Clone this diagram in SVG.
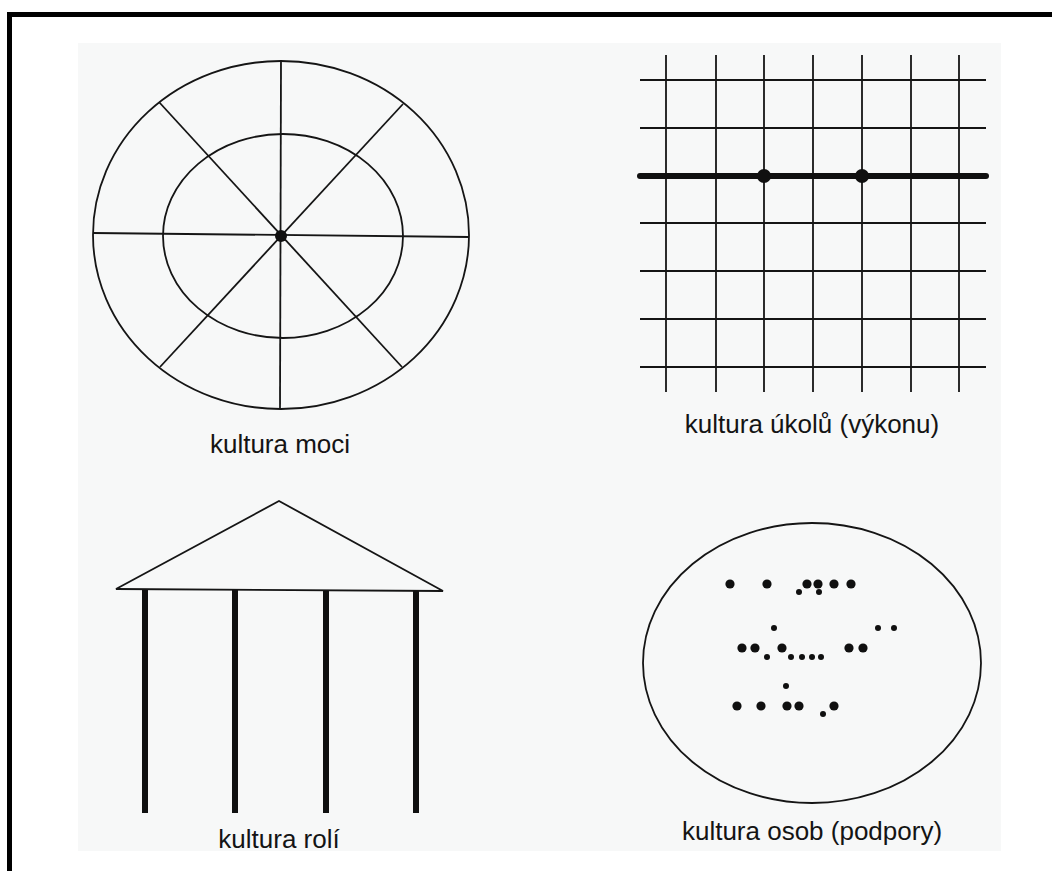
<svg xmlns="http://www.w3.org/2000/svg" width="1052" height="871" viewBox="0 0 1052 871">
<style>
.ln{fill:none;stroke:#151515;stroke-width:1.8}
.lbl{font-family:"Liberation Sans",Arial,sans-serif;font-size:26px;fill:#141414;text-anchor:middle}
.dot{fill:#101010}
</style>
<rect x="0" y="0" width="1052" height="871" fill="#ffffff"/>
<rect x="78" y="43" width="923" height="808" fill="#f7f8f8"/>
<rect x="9.5" y="14.5" width="1100" height="1000" fill="none" stroke="#000" stroke-width="5"/>

<g id="kultura-moci">
  <ellipse class="ln" cx="281" cy="235" rx="188" ry="174"/>
  <ellipse class="ln" cx="283" cy="236" rx="120" ry="102"/>
  <line class="ln" x1="281" y1="61" x2="280" y2="409"/>
  <line class="ln" x1="93" y1="233" x2="469" y2="237"/>
  <line class="ln" x1="159" y1="102" x2="402" y2="367"/>
  <line class="ln" x1="403" y1="104" x2="160" y2="367"/>
  <circle class="dot" cx="281" cy="236" r="6"/>
  <text class="lbl" x="280" y="453">kultura moci</text>
</g>

<g id="kultura-ukolu">
  <g class="ln">
    <line x1="666" y1="55" x2="666" y2="392"/>
    <line x1="716" y1="55" x2="716" y2="392"/>
    <line x1="764" y1="55" x2="764" y2="392"/>
    <line x1="813" y1="55" x2="813" y2="392"/>
    <line x1="862" y1="55" x2="862" y2="392"/>
    <line x1="911" y1="55" x2="911" y2="392"/>
    <line x1="959" y1="55" x2="959" y2="392"/>
    <line x1="640" y1="80" x2="986" y2="80"/>
    <line x1="640" y1="128" x2="986" y2="128"/>
    <line x1="640" y1="223" x2="986" y2="223"/>
    <line x1="640" y1="271" x2="986" y2="271"/>
    <line x1="640" y1="319" x2="986" y2="319"/>
    <line x1="640" y1="367" x2="986" y2="367"/>
  </g>
  <line x1="640" y1="176" x2="986" y2="176" stroke="#101010" stroke-width="6" stroke-linecap="round"/>
  <circle class="dot" cx="764" cy="176" r="7"/>
  <circle class="dot" cx="862" cy="176" r="7"/>
  <text class="lbl" x="812" y="433">kultura úkolů (výkonu)</text>
</g>

<g id="kultura-roli">
  <polygon class="ln" points="116,589 279,501 443,591"/>
  <g stroke="#101010" stroke-width="6">
    <line x1="145" y1="590" x2="145" y2="813"/>
    <line x1="235" y1="590" x2="235" y2="813"/>
    <line x1="326" y1="591" x2="326" y2="813"/>
    <line x1="416" y1="591" x2="416" y2="813"/>
  </g>
  <text class="lbl" x="279" y="848">kultura rolí</text>
</g>

<g id="kultura-osob">
  <ellipse class="ln" cx="812" cy="663" rx="169" ry="140" stroke-width="2.2"/>
  <g class="dot">
    <circle cx="730" cy="584" r="4.6"/>
    <circle cx="767" cy="584" r="4.6"/>
    <circle cx="807" cy="584" r="4.6"/>
    <circle cx="818" cy="584" r="4.6"/>
    <circle cx="834" cy="584" r="4.6"/>
    <circle cx="851" cy="584" r="4.6"/>
    <circle cx="799" cy="592" r="3"/>
    <circle cx="819" cy="592" r="3"/>
    <circle cx="774" cy="628" r="3"/>
    <circle cx="878" cy="628" r="3"/>
    <circle cx="894" cy="628" r="3"/>
    <circle cx="742" cy="648" r="4.6"/>
    <circle cx="755" cy="648" r="4.6"/>
    <circle cx="782" cy="648" r="4.6"/>
    <circle cx="849" cy="648" r="4.6"/>
    <circle cx="863" cy="648" r="4.6"/>
    <circle cx="767" cy="657" r="3"/>
    <circle cx="791" cy="657" r="3"/>
    <circle cx="802" cy="657" r="3"/>
    <circle cx="812" cy="657" r="3"/>
    <circle cx="821" cy="657" r="3"/>
    <circle cx="786" cy="686" r="3"/>
    <circle cx="737" cy="706" r="4.6"/>
    <circle cx="761" cy="706" r="4.6"/>
    <circle cx="787" cy="706" r="4.6"/>
    <circle cx="799" cy="706" r="4.6"/>
    <circle cx="834" cy="706" r="4.6"/>
    <circle cx="823" cy="714" r="3"/>
  </g>
  <text class="lbl" x="812" y="840">kultura osob (podpory)</text>
</g>
</svg>
